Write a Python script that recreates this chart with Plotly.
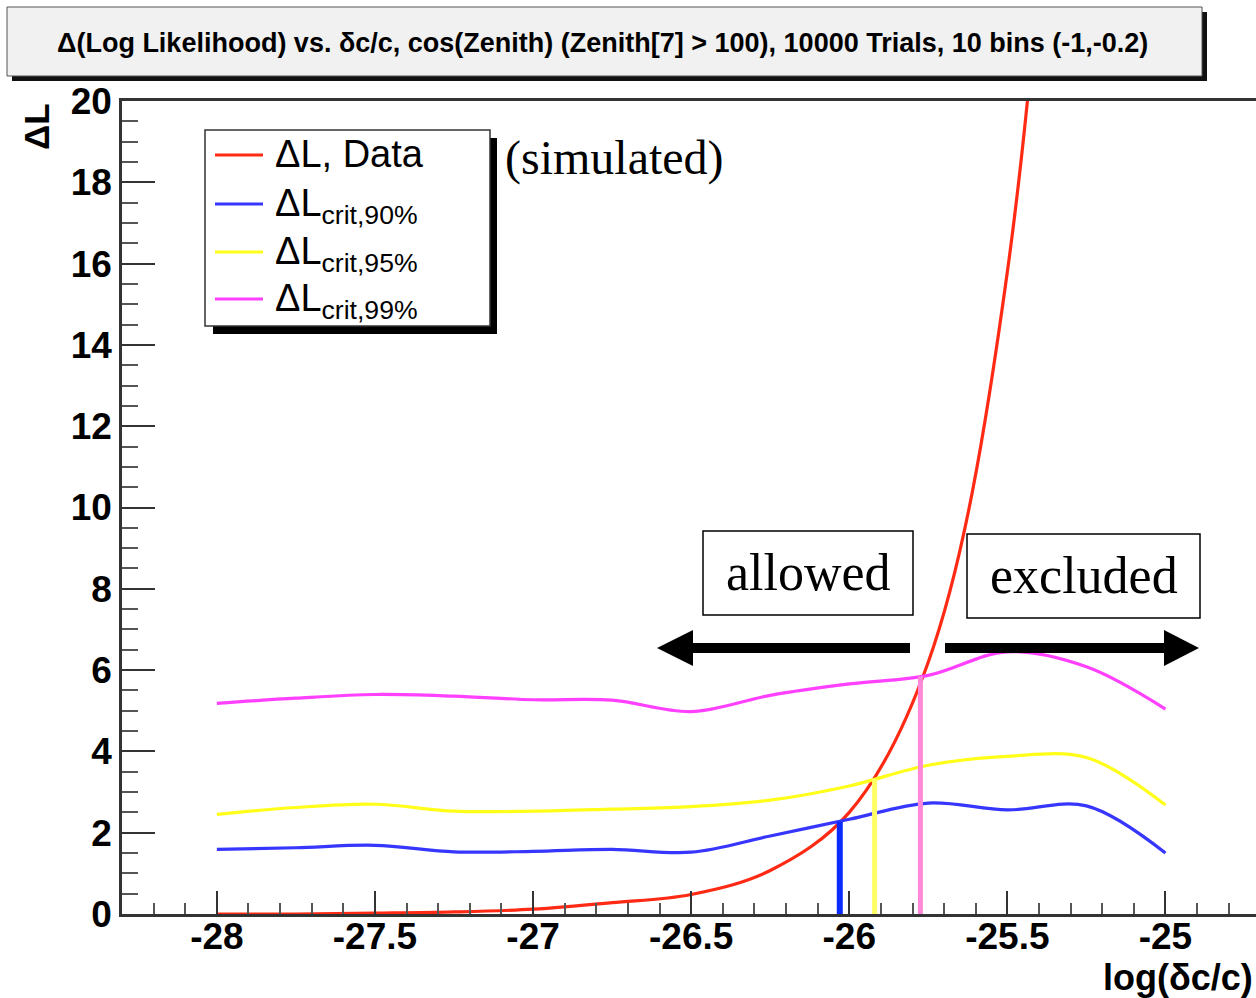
import plotly.graph_objects as go

# ---------------- data ----------------
LOG_DC = [-28.0, -27.75, -27.5, -27.25, -27.0, -26.75, -26.5, -26.25, -26.0, -25.75, -25.5, -25.25, -25.0]
DL_DATA = [0.0, 0.0, 0.02, 0.05, 0.12, 0.28, 0.48, 1.07, 2.5, 6.2, 15.8, 42.0, 110.0]
DL_CRIT90 = [1.59, 1.63, 1.69, 1.53, 1.54, 1.59, 1.52, 1.92, 2.33, 2.73, 2.56, 2.66, 1.50]
DL_CRIT95 = [2.45, 2.62, 2.70, 2.53, 2.53, 2.58, 2.64, 2.80, 3.15, 3.66, 3.88, 3.85, 2.68]
DL_CRIT99 = [5.18, 5.31, 5.40, 5.36, 5.27, 5.26, 4.98, 5.38, 5.66, 5.87, 6.45, 6.08, 5.04]

# crossing points of data curve with critical curves
CROSS_X = [-26.03, -25.92, -25.775]
CROSS_Y = [2.27, 3.33, 5.85]

X_TICKS = [-28, -27.5, -27, -26.5, -26, -25.5, -25]
X_TICK_LABELS = ["-28", "-27.5", "-27", "-26.5", "-26", "-25.5", "-25"]
Y_TICKS = [0, 2, 4, 6, 8, 10, 12, 14, 16, 18, 20]
Y_TICK_LABELS = ["0", "2", "4", "6", "8", "10", "12", "14", "16", "18", "20"]

TITLE = "Δ(Log Likelihood) vs. δc/c, cos(Zenith) (Zenith[7] > 100), 10000 Trials, 10 bins (-1,-0.2)"
LEGEND_LABELS = ["ΔL, Data", "ΔL<sub>crit,90%</sub>", "ΔL<sub>crit,95%</sub>", "ΔL<sub>crit,99%</sub>"]

# ---------------- styles ----------------
W, H = 1256, 998
L, R, T, B = 122, 1256, 101, 914
SANS = "Liberation Sans, Arial, Helvetica, sans-serif"
SERIF = "Liberation Serif, Times New Roman, serif"
C_RED = "#ff2a14"
C_BLUE = "#3636ff"
C_YEL = "#ffff1a"
C_MAG = "#ff40ff"
LINE_COLORS = [C_RED, C_BLUE, C_YEL, C_MAG]
VCOLORS = ["#0a2aff", "#ffff66", "#ff88d8"]
VWIDTHS = [6, 5, 5]


def px(x):
    return (x - L) / (R - L)


def py(y):
    return (B - y) / (B - T)


fig = go.Figure()
series = [DL_DATA, DL_CRIT90, DL_CRIT95, DL_CRIT99]
for vals, col in zip(series, LINE_COLORS):
    fig.add_trace(go.Scatter(
        x=LOG_DC, y=vals, mode="lines",
        line=dict(color=col, width=3.2, shape="spline", smoothing=1.0),
        showlegend=False, hoverinfo="skip"))

for xv, yv, col, w in zip(CROSS_X, CROSS_Y, VCOLORS, VWIDTHS):
    fig.add_trace(go.Scatter(
        x=[xv, xv], y=[0, yv], mode="lines",
        line=dict(color=col, width=w), showlegend=False, hoverinfo="skip"))

shapes = []
annotations = []

# title box with shadow
shapes.append(dict(type="rect", xref="paper", yref="paper",
                   x0=px(12), x1=px(1207), y0=py(81), y1=py(12),
                   fillcolor="#111111", line=dict(width=0), layer="above"))
shapes.append(dict(type="rect", xref="paper", yref="paper",
                   x0=px(7), x1=px(1202), y0=py(76), y1=py(7),
                   fillcolor="#f1f1f1", line=dict(color="#555555", width=1), layer="above"))
annotations.append(dict(xref="paper", yref="paper", x=px(602), y=py(43),
                        text=TITLE, showarrow=False, xanchor="center", yanchor="middle",
                        font=dict(family=SANS, size=27, color="black", weight="bold")))

# legend box with shadow
shapes.append(dict(type="rect", xref="paper", yref="paper",
                   x0=px(213), x1=px(497), y0=py(334), y1=py(138),
                   fillcolor="#000000", line=dict(width=0), layer="above"))
shapes.append(dict(type="rect", xref="paper", yref="paper",
                   x0=px(205), x1=px(490), y0=py(326), y1=py(130),
                   fillcolor="white", line=dict(color="#333333", width=1.5), layer="above"))
legend_rows = [155, 204, 252, 299]
for i, (yy, col, lab) in enumerate(zip(legend_rows, LINE_COLORS, LEGEND_LABELS)):
    shapes.append(dict(type="line", xref="paper", yref="paper",
                       x0=px(215), x1=px(263), y0=py(yy), y1=py(yy),
                       line=dict(color=col, width=3), layer="above"))
    ysh = 1 if i == 0 else -2
    annotations.append(dict(xref="paper", yref="paper", x=px(273), y=py(yy),
                            text=lab, showarrow=False, xanchor="left", yanchor="middle",
                            yshift=ysh,
                            font=dict(family=SANS, size=38, color="black")))

annotations.append(dict(xref="paper", yref="paper", x=px(503), y=py(158),
                        text="(simulated)", showarrow=False, xanchor="left", yanchor="middle",
                        font=dict(family=SERIF, size=48, color="black")))

# allowed / excluded boxes
for (x0, x1, y0, y1, txt) in [(703, 913, 531, 615, "allowed"), (967, 1200, 534, 618, "excluded")]:
    shapes.append(dict(type="rect", xref="paper", yref="paper",
                       x0=px(x0), x1=px(x1), y0=py(y1), y1=py(y0),
                       fillcolor="white", line=dict(color="black", width=1.5), layer="above"))
    annotations.append(dict(xref="paper", yref="paper", x=px((x0 + x1) / 2), y=py((y0 + y1) / 2 - 1),
                            text=txt, showarrow=False, xanchor="center", yanchor="middle",
                            font=dict(family=SERIF, size=52, color="black")))

# arrows
ay = 648
shapes.append(dict(type="line", xref="paper", yref="paper",
                   x0=px(690), x1=px(910), y0=py(ay), y1=py(ay),
                   line=dict(color="black", width=10), layer="above"))
shapes.append(dict(type="path", xref="paper", yref="paper",
                   path=f"M {px(657)} {py(ay)} L {px(693)} {py(ay - 18)} L {px(693)} {py(ay + 18)} Z",
                   fillcolor="black", line=dict(color="black", width=0), layer="above"))
shapes.append(dict(type="line", xref="paper", yref="paper",
                   x0=px(945), x1=px(1168), y0=py(ay), y1=py(ay),
                   line=dict(color="black", width=10), layer="above"))
shapes.append(dict(type="path", xref="paper", yref="paper",
                   path=f"M {px(1199)} {py(ay)} L {px(1164)} {py(ay - 18)} L {px(1164)} {py(ay + 18)} Z",
                   fillcolor="black", line=dict(color="black", width=0), layer="above"))

# axis titles
annotations.append(dict(xref="paper", yref="paper", x=px(36), y=py(127),
                        text="ΔL", showarrow=False, textangle=-90,
                        xanchor="center", yanchor="middle",
                        font=dict(family=SANS, size=35, color="black", weight="bold")))
annotations.append(dict(xref="paper", yref="paper", x=px(1255), y=py(977),
                        text="log(δc/c)", showarrow=False,
                        xanchor="right", yanchor="middle",
                        font=dict(family=SANS, size=36, color="black", weight="bold")))

fig.update_layout(
    width=W, height=H,
    margin=dict(l=L, r=W - R, t=T, b=H - B, pad=0),
    paper_bgcolor="white", plot_bgcolor="white",
    showlegend=False,
    shapes=shapes, annotations=annotations,
    xaxis=dict(
        range=[-28.3, -28.3 + (R - L) / 316.2],
        tickmode="array", tickvals=X_TICKS, ticktext=X_TICK_LABELS,
        ticks="inside", ticklen=23, tickwidth=1.5, tickcolor="#333333",
        minor=dict(tickmode="linear", tick0=-28, dtick=0.1, ticks="inside",
                   ticklen=11, tickwidth=1.5, tickcolor="#555555"),
        showline=True, linecolor="#333333", linewidth=2.5, mirror=True,
        showgrid=False, zeroline=False, ticklabelstandoff=-12,
        tickfont=dict(family=SANS, size=37, color="black", weight="bold"),
    ),
    yaxis=dict(
        range=[0, 20],
        tickmode="array", tickvals=Y_TICKS, ticktext=Y_TICK_LABELS,
        ticks="inside", ticklen=33, tickwidth=1.5, tickcolor="#333333",
        minor=dict(tickmode="linear", tick0=0, dtick=0.5, ticks="inside",
                   ticklen=16, tickwidth=1.5, tickcolor="#555555"),
        showline=True, linecolor="#333333", linewidth=2.5, mirror=False,
        showgrid=False, zeroline=False,
        tickfont=dict(family=SANS, size=37, color="black", weight="bold"),
    ),
)

fig.write_html("out.html")
